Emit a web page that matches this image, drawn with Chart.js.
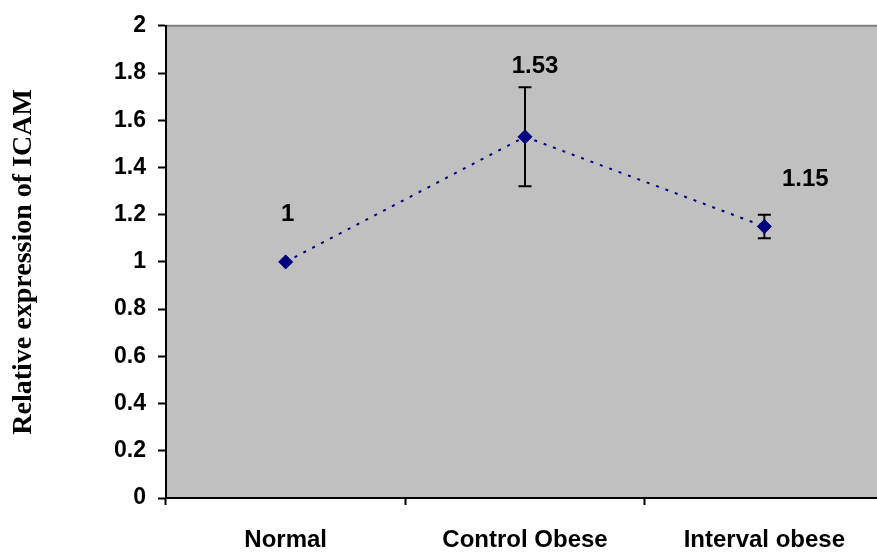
<!DOCTYPE html>
<html>
<head>
<meta charset="utf-8">
<script src="https://cdn.jsdelivr.net/npm/chart.js@4.4.1/dist/chart.umd.min.js"></script>
<style>
  html, body { margin: 0; padding: 0; background: #ffffff; overflow: hidden; }
  #wrap { width: 877px; height: 552px; overflow: hidden; position: relative; }
  #chart_icam { display: block; position: absolute; left: 0; top: 0; }
</style>
</head>
<body>
<div id="wrap"><canvas id="chart_icam" width="892" height="552"></canvas></div>
<script>
const groups = ['Normal', 'Control Obese', 'Interval obese'];
const icamValues = [1, 1.53, 1.15];
const icamErrors = [0, 0.21, 0.05];
const valueLabels = ['1', '1.53', '1.15'];
const yTicks = [0, 0.2, 0.4, 0.6, 0.8, 1, 1.2, 1.4, 1.6, 1.8, 2];
const yTickLabels = ['0', '0.2', '0.4', '0.6', '0.8', '1', '1.2', '1.4', '1.6', '1.8', '2'];

const NAVY = '#000080';
const PLOT_BG = '#c0c0c0';

// label placement relative to each point (as moved by hand in the original)
const labelOffsets = [[2, -48], [10, -70], [41, -47]];

const plotBackground = {
    id: 'plotBackground',
    beforeDraw(chart) {
        const {ctx, chartArea: a} = chart;
        ctx.save();
        ctx.fillStyle = PLOT_BG;
        ctx.fillRect(a.left, a.top, a.right - a.left, a.bottom - a.top);
        ctx.strokeStyle = '#808080';
        ctx.lineWidth = 2;
        ctx.beginPath();
        ctx.moveTo(a.left, a.top);
        ctx.lineTo(a.right, a.top);
        ctx.stroke();
        ctx.restore();
    }
};

const errorBars = {
    id: 'errorBars',
    beforeDatasetsDraw(chart) {
        const ctx = chart.ctx;
        const y = chart.scales.y;
        const meta = chart.getDatasetMeta(0);
        ctx.save();
        ctx.strokeStyle = '#000000';
        ctx.lineWidth = 2;
        meta.data.forEach((pt, i) => {
            const err = icamErrors[i];
            if (!err) return;
            const top = y.getPixelForValue(icamValues[i] + err);
            const bot = y.getPixelForValue(icamValues[i] - err);
            ctx.beginPath();
            ctx.moveTo(pt.x, top);
            ctx.lineTo(pt.x, bot);
            ctx.moveTo(pt.x - 6.5, top);
            ctx.lineTo(pt.x + 6.5, top);
            ctx.moveTo(pt.x - 6.5, bot);
            ctx.lineTo(pt.x + 6.5, bot);
            ctx.stroke();
        });
        ctx.restore();
    }
};

const valueText = {
    id: 'valueText',
    afterDatasetsDraw(chart) {
        const ctx = chart.ctx;
        const meta = chart.getDatasetMeta(0);
        ctx.save();
        ctx.fillStyle = '#000000';
        ctx.font = 'bold 24px "Liberation Sans", Arial, sans-serif';
        ctx.textAlign = 'center';
        ctx.textBaseline = 'middle';
        meta.data.forEach((pt, i) => {
            ctx.fillText(valueLabels[i], pt.x + labelOffsets[i][0], pt.y + labelOffsets[i][1]);
        });
        ctx.restore();
    }
};

const ctx = document.getElementById('chart_icam');
new Chart(ctx, {
    type: 'line',
    data: {
        labels: groups,
        datasets: [{
            data: icamValues,
            borderColor: NAVY,
            borderWidth: 2,
            borderDash: [3, 7],
            backgroundColor: NAVY,
            pointStyle: 'rectRot',
            pointRadius: 7,
            pointBorderWidth: 1,
            pointBackgroundColor: NAVY,
            pointBorderColor: NAVY,
            tension: 0
        }]
    },
    options: {
        responsive: false,
        animation: false,
        events: [],
        layout: { padding: { top: 24, right: 3, left: 0, bottom: 0 } },
        plugins: {
            legend: { display: false },
            tooltip: { enabled: false }
        },
        scales: {
            x: {
                offset: true,
                grid: {
                    offset: true,
                    drawOnChartArea: false,
                    tickLength: 7,
                    tickColor: '#000000',
                    tickWidth: 2
                },
                border: { color: '#000000', width: 2 },
                ticks: {
                    color: '#000000',
                    padding: 21,
                    maxRotation: 0,
                    font: { family: '"Liberation Sans", Arial, sans-serif', size: 24, weight: 'bold' }
                },
                afterFit(scale) {
                    scale.height = 54;
                    scale.paddingLeft = 0;
                    scale.paddingRight = 0;
                }
            },
            y: {
                min: 0,
                max: 2,
                afterBuildTicks(scale) { scale.ticks = yTicks.map(v => ({value: v})); },
                grid: {
                    drawOnChartArea: false,
                    tickLength: 8,
                    tickColor: '#000000',
                    tickWidth: 2
                },
                border: { color: '#000000', width: 2 },
                ticks: {
                    color: '#000000',
                    padding: 12,
                    callback: (v, i) => yTickLabels[i],
                    font: { family: '"Liberation Sans", Arial, sans-serif', size: 23, weight: 'bold' }
                },
                title: {
                    display: true,
                    text: 'Relative expression of ICAM',
                    color: '#000000',
                    padding: { top: 7, bottom: 0 },
                    font: { family: '"Liberation Serif", "Times New Roman", serif', size: 28, weight: 'bold' }
                },
                afterFit(scale) { scale.width = 166; }
            }
        }
    },
    plugins: [plotBackground, errorBars, valueText]
});
</script>
</body>
</html>
